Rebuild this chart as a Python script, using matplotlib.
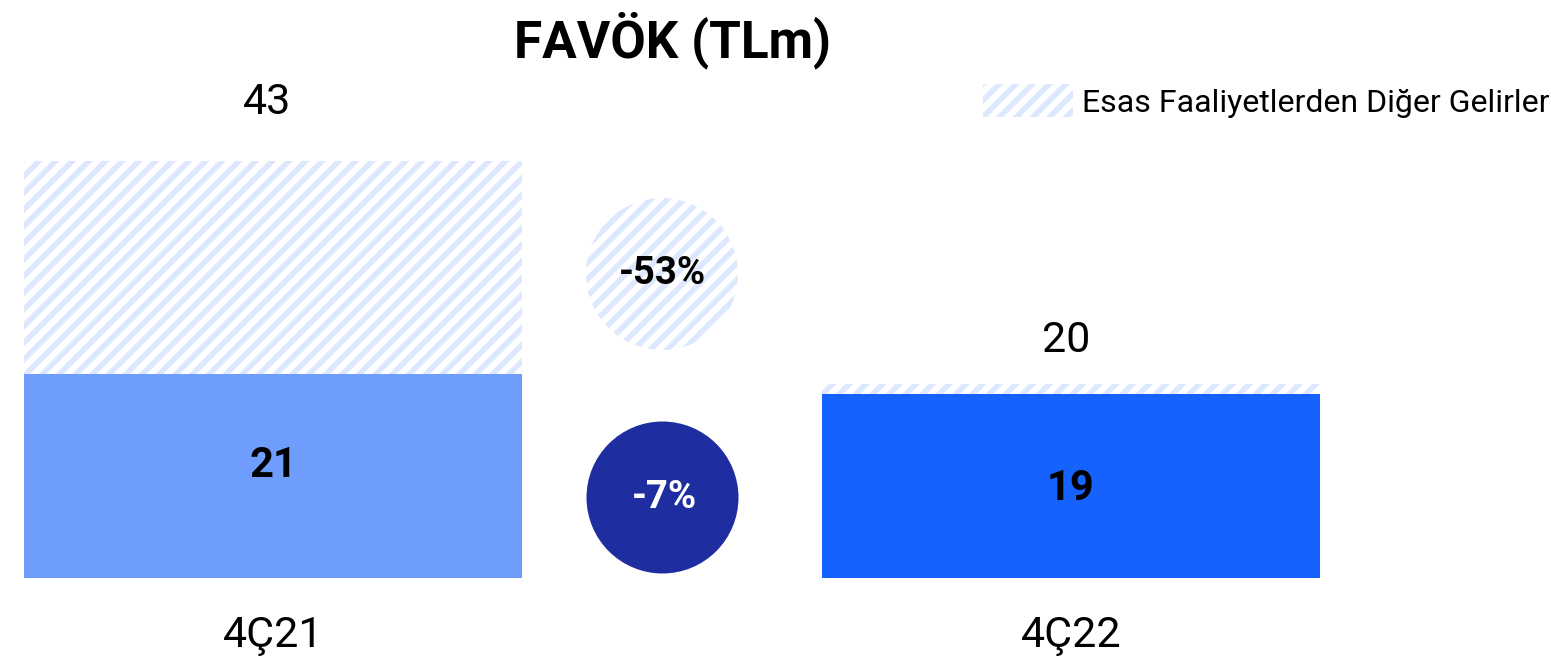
import matplotlib.pyplot as plt
import numpy as np

plt.rcParams['font.family'] = ['Roboto', 'DejaVu Sans']
plt.rcParams['hatch.linewidth'] = 4

# data
periods = ["4Ç21", "4Ç22"]
base = [21, 19]
totals = [43, 20]
changes = ["-53%", "-7%"]
legend_label = "Esas Faaliyetlerden Diğer Gelirler"
title = "FAVÖK (TLm)"

base_colors = ["#6f9dfd", "#1662ff"]
hatch_color = "#dde7fd"
circle_color = "#1e2ea0"

fig = plt.figure(figsize=(15.51, 6.57), dpi=100)
ax = fig.add_axes([0, 79 / 657, 1, 578 / 657])

x = np.arange(len(periods))
other = [t - b for t, b in zip(totals, base)]
w = 0.624

ax.bar(x, base, width=w, color=base_colors, linewidth=0)
ax.bar(x, other, bottom=base, width=w, color="white", edgecolor=hatch_color,
       hatch="//", linewidth=0, label=legend_label)

ax.set_xlim(-273 / 798, (1551 - 273) / 798)
ax.set_ylim(0, 578 / 9.7)

# labels (pixel nudges to sit like the original)
top_pads = [58, 44]
inner_pads = [11, -3]
top_nudge_x = [-6, -5]
for i in range(len(periods)):
    ax.annotate(str(base[i]), (x[i], base[i] / 2), xytext=(0, inner_pads[i] * 0.72),
                textcoords="offset points", ha="center", va="center",
                fontsize=30, fontweight="bold", color="black")
    ax.annotate(str(totals[i]), (x[i], totals[i]),
                xytext=(top_nudge_x[i] * 0.72, top_pads[i] * 0.72),
                textcoords="offset points", ha="center", va="center", fontsize=31)

ax.set_xticks(x)
ax.set_xticklabels(periods, fontsize=31)
ax.tick_params(axis="x", length=0, pad=27)
ax.set_yticks([])
for s in ax.spines.values():
    s.set_visible(False)

# change circles
d = 152 * 0.72
ax.scatter([662 / 1551], [304 / 578], s=d ** 2, transform=ax.transAxes,
           color="white", edgecolor=hatch_color, hatch="//", linewidth=0, clip_on=False)
ax.scatter([662 / 1551], [81 / 578], s=d ** 2, transform=ax.transAxes,
           color=circle_color, linewidth=0, clip_on=False)
ax.text(662 / 1551, 304 / 578, changes[0], transform=ax.transAxes, ha="center",
        va="center", fontsize=27.5, fontweight="bold", color="black")
ax.text(664 / 1551, 81 / 578, changes[1], transform=ax.transAxes, ha="center",
        va="center", fontsize=27.5, fontweight="bold", color="white")

fig.text(672 / 1551, 1 - 40 / 657, title, ha="center", va="center",
         fontsize=37, fontweight="bold")

fig.legend(loc="center left", bbox_to_anchor=(983 / 1551, 1 - 101 / 657),
           frameon=False, fontsize=23, handlelength=2.82, handleheight=1.22,
           handletextpad=0.28, borderpad=0, borderaxespad=0)

fig.savefig("out.png", dpi=100)
